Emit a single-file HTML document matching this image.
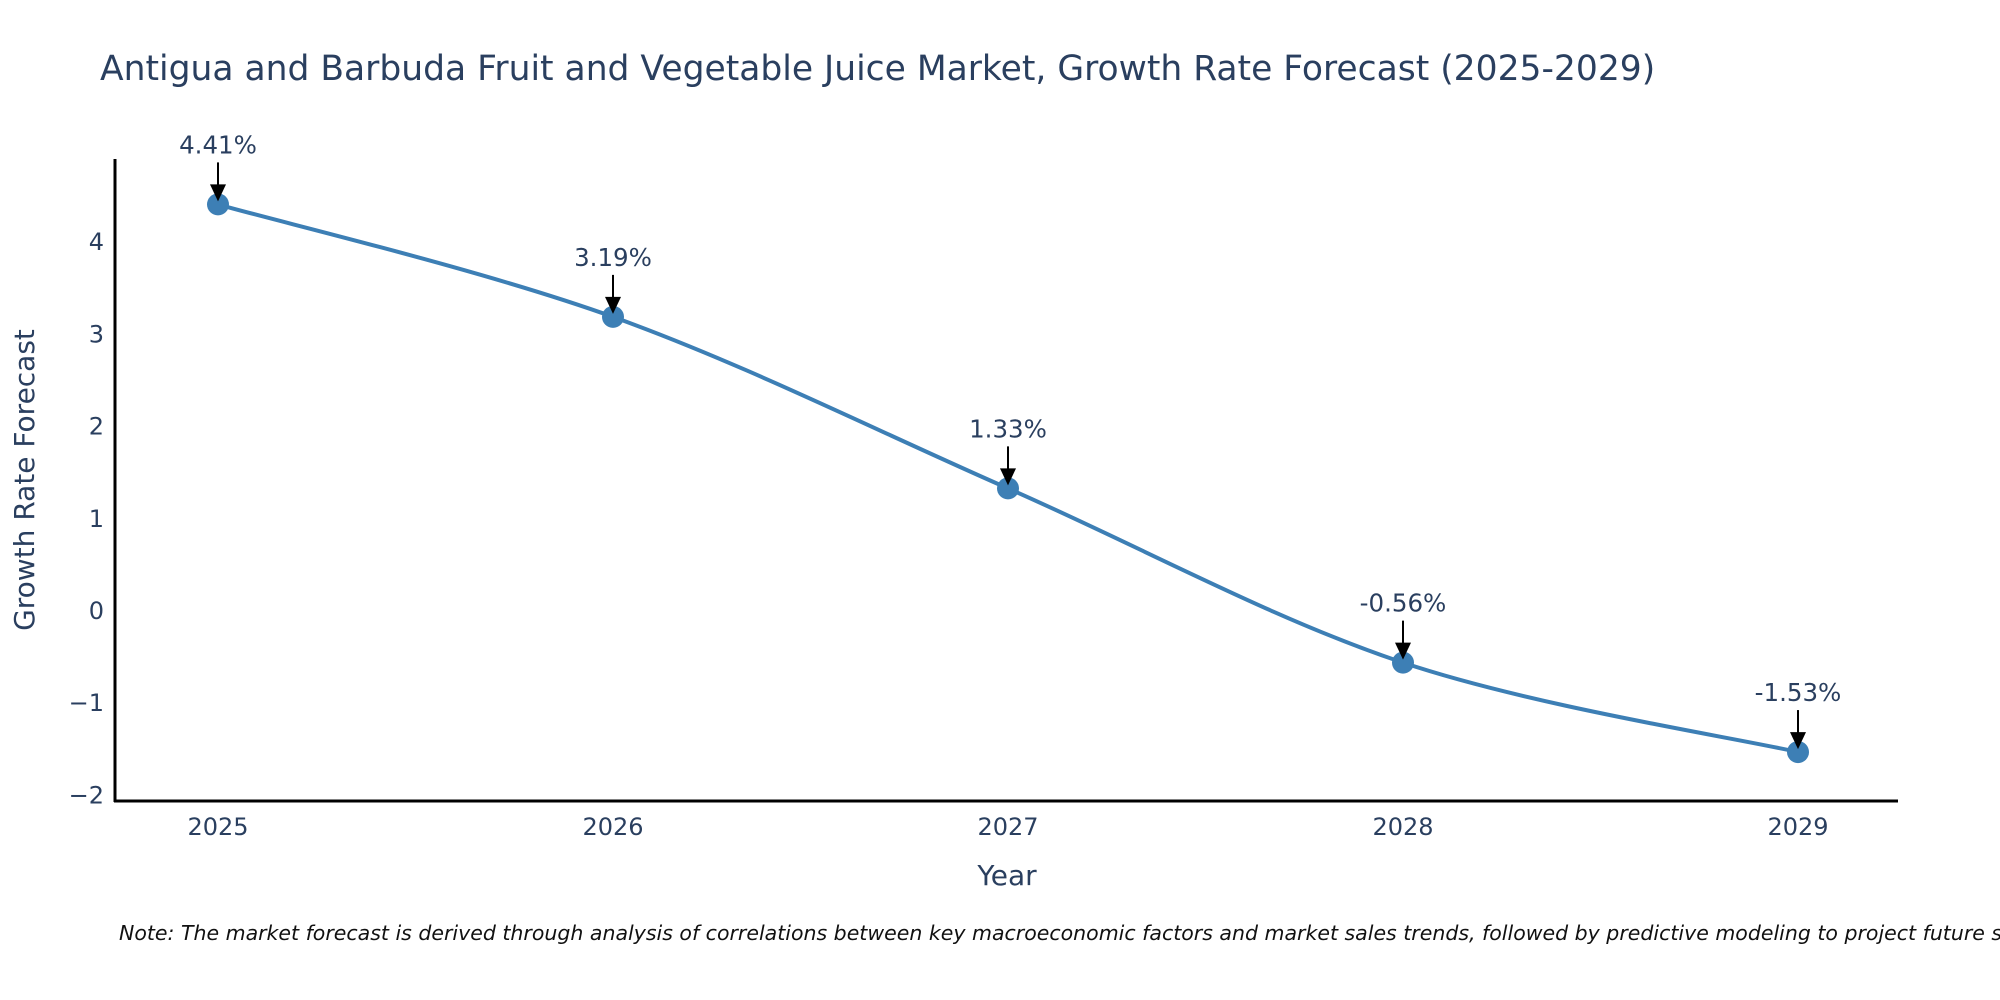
<!DOCTYPE html>
<html><head><meta charset="utf-8"><style>
body{margin:0;background:#fff;}
svg{display:block;font-family:"DejaVu Sans","Liberation Sans",sans-serif;}
</style></head><body>
<svg id="chart" width="2000" height="1000" viewBox="0 0 2000 1000">
<text x="100" y="80" font-size="34.5" fill="#2a3f5f">Antigua and Barbuda Fruit and Vegetable Juice Market, Growth Rate Forecast (2025-2029)</text>
<g id="yticks"></g>
<g id="xticks"></g>
<line x1="115" y1="159" x2="115" y2="802" stroke="#000" stroke-width="3"/>
<line x1="114" y1="801" x2="1898" y2="801" stroke="#000" stroke-width="3"/>
<text transform="translate(34,480) rotate(-90)" text-anchor="middle" font-size="28" fill="#2a3f5f">Growth Rate Forecast</text>
<text x="1007" y="885" text-anchor="middle" font-size="28" fill="#2a3f5f">Year</text>
<path id="line" fill="none" stroke="#3d7fb5" stroke-width="4"/>
<g id="marks"></g>
<text x="119" y="940" font-size="20.5" font-style="italic" fill="#111">Note: The market forecast is derived through analysis of correlations between key macroeconomic factors and market sales trends, followed by predictive modeling to project future sales.</text>
</svg>
<script>
const years = ["2025","2026","2027","2028","2029"];
const growth = [4.41, 3.19, 1.33, -0.56, -1.53];
const yTickValues = [-2,-1,0,1,2,3,4];
const yTickLabels = ["\u22122","\u22121","0","1","2","3","4"];
const NS="http://www.w3.org/2000/svg";
function xs(i){return 218+i*395;}
function ys(v){return 611-v*92.2;}
function mk(tag,attrs,parent){const e=document.createElementNS(NS,tag);for(const k in attrs)e.setAttribute(k,attrs[k]);parent.appendChild(e);return e;}
const yt=document.getElementById('yticks');
yTickValues.forEach((v,i)=>{
  const t=mk('text',{x:104,y:ys(v)+8,'text-anchor':'end','font-size':24,fill:'#2a3f5f'},yt);
  
  
  t.textContent=yTickLabels[i];
});
const xt=document.getElementById('xticks');
years.forEach((y,i)=>{
  const t=mk('text',{x:xs(i),y:835,'text-anchor':'middle','font-size':24,fill:'#2a3f5f'},xt);
  
  
  t.textContent=y;
});
const P=growth.map((v,i)=>[xs(i),ys(v)]);
let d='M'+P[0][0]+','+P[0][1];
for(let i=0;i<P.length-1;i++){
  const p0=P[Math.max(0,i-1)],p1=P[i],p2=P[i+1],p3=P[Math.min(P.length-1,i+2)];
  const k=1/6;
  d+=' C'+(p1[0]+(p2[0]-p0[0])*k)+','+(p1[1]+(p2[1]-p0[1])*k)+' '+(p2[0]-(p3[0]-p1[0])*k)+','+(p2[1]-(p3[1]-p1[1])*k)+' '+p2[0]+','+p2[1];
}
document.getElementById('line').setAttribute('d',d);
const g=document.getElementById('marks');
growth.forEach((v,i)=>{
  const x=xs(i),y=ys(v);
  const c=mk('circle',{cx:x,cy:y,r:11,fill:'#3d7fb5'},g);
  
  
  const l=mk('line',{x1:x,y1:y-42,x2:x,y2:y-18,stroke:'#000','stroke-width':2},g);
  
  
  const a=mk('polygon',{points:(x-8)+','+(y-20)+' '+(x+8)+','+(y-20)+' '+x+','+(y-3),fill:'#000'},g);
  
  
  const t=mk('text',{x:x,y:y-51,'text-anchor':'middle','font-size':24.5,fill:'#2a3f5f'},g);
  
  
  t.textContent=v.toFixed(2)+'%';
});
</script>
</body></html>
